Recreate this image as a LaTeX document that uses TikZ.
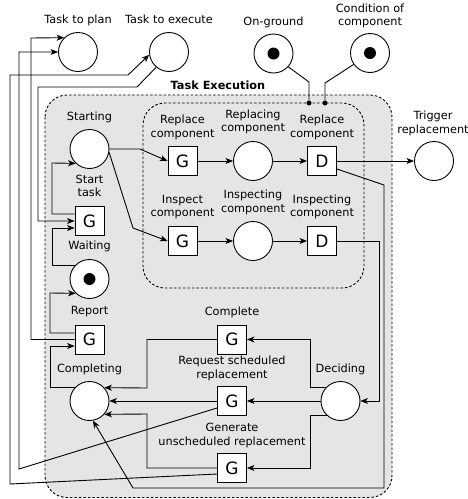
\documentclass[tikz,border=0pt]{standalone}
\usepackage{fontspec}
\setmainfont{DejaVu Sans}
\usetikzlibrary{arrows.meta,calc}

\begin{document}
\begin{tikzpicture}[x=1pt,y=-1pt,
  every node/.style={font=\fontsize{11.3}{13.5}\selectfont},
  place/.style={circle,draw,fill=white,minimum size=39pt,inner sep=0pt,line width=0.9pt},
  trans/.style={rectangle,draw,fill=white,minimum size=29pt,inner sep=0pt,line width=0.9pt,font=\fontsize{17}{17}\selectfont},
  token/.style={circle,fill=black,minimum size=12pt,inner sep=0pt},
  dotpt/.style={circle,fill=black,minimum size=5pt,inner sep=0pt},
  lbl/.style={align=center,inner sep=0pt},
  arc/.style={line width=0.9pt,-{Stealth[length=7.5pt,width=6pt,inset=2pt]}},
  link/.style={line width=0.9pt},
  region/.style={dash pattern=on 2.5pt off 2pt,line width=0.9pt,rounded corners=22pt}
]
\useasboundingbox (0,0) rectangle (468,499);

% regions
\path[region,fill=black!10,draw=black] (45,95) rectangle (392,497.5);
\draw[region] (143,103) rectangle (364,288);

% places
\node[place] (plan) at (78,52) {};
\node[place] (exec) at (169,52) {};
\node[place] (ground) at (273.5,53.5) {};
\node[place] (cond) at (370,53) {};
\node[place] (trig) at (434,161) {};
\node[place] (start) at (89.5,149) {};
\node[place] (wait) at (89.5,279) {};
\node[place] (compl) at (89.5,401) {};
\node[place] (prep) at (253,161) {};
\node[place] (pins) at (253,241) {};
\node[place] (decide) at (340.5,401) {};

% tokens
\node[token] (tokground) at (ground.center) {};
\node[token] (tokcond) at (cond.center) {};
\node[token] (tokwait) at (wait.center) {};

% transitions
\node[trans] (gstart) at (89.5,221) {G};
\node[trans] (greport) at (89.5,339.5) {G};
\node[trans] (grep) at (182.5,161) {G};
\node[trans] (drep) at (322,161) {D};
\node[trans] (gins) at (182.5,241) {G};
\node[trans] (dins) at (322,241) {D};
\node[trans] (gcomp) at (232,339.5) {G};
\node[trans] (greq) at (232,401) {G};
\node[trans] (ggen) at (232,468) {G};

% dots
\node[dotpt] (dot1) at (309,103) {};
\node[dotpt] (dot2) at (325,103) {};

% labels
\node[lbl,anchor=base] (lplan) at (78,23) {Task to plan};
\node[lbl,anchor=base] (lexec) at (169,23) {Task to execute};
\node[lbl,anchor=base] (lground) at (273.5,25) {On-ground};
\node[lbl] (lcond) at (370,16) {Condition of\\component};
\node[lbl,anchor=base,font=\fontsize{11.3}{13.5}\selectfont\bfseries] (ltaskexec) at (218,89) {Task Execution};
\node[lbl] (ltrig) at (433,123.5) {Trigger\\replacement};
\node[lbl,anchor=base] (lstart) at (89.5,120) {Starting};
\node[lbl] (lgstart) at (89.5,186) {Start\\task};
\node[lbl,anchor=base] (lwait) at (89.5,249) {Waiting};
\node[lbl,anchor=base] (lreport) at (89.5,314) {Report};
\node[lbl,anchor=base] (lcompl) at (89.5,372) {Completing};
\node[lbl] (lgrep) at (182.5,127.5) {Replace\\component};
\node[lbl] (lprep) at (253,122) {Replacing\\component};
\node[lbl] (ldrep) at (322,127.5) {Replace\\component};
\node[lbl] (lgins) at (182.5,207) {Inspect\\component};
\node[lbl] (lpins) at (253,202.5) {Inspecting\\component};
\node[lbl] (ldins) at (322,207) {Inspecting\\component};
\node[lbl,anchor=base] (lgcomp) at (232,315) {Complete};
\node[lbl] (lgreq) at (232,368.5) {Request scheduled\\replacement};
\node[lbl] (lggen) at (232,435.5) {Generate\\unscheduled replacement};
\node[lbl,anchor=base] (ldecide) at (340.5,372) {Deciding};

% arcs
\draw[arc] (exec.230) -- (137,87) -- (38,87) |- (gstart.west);
\draw[arc] ($(gstart.west)+(0,-7)$) -| (52,163) -- (start.226);
\draw[arc] (wait.138) -| (52,228) -- ($(gstart.west)+(0,7)$);
\draw[arc] ($(greport.west)+(0,-6.5)$) -| (50,293) -- (wait.226);
\draw[arc] (greport.west) -| (31,38) -- (plan.134);
\draw[arc] (compl.138) -| (50,346) -- ($(greport.west)+(0,6.5)$);
\draw[arc] ($(greq.west)+(0,7)$) -- (19,469) -- (19,52) -- (plan.west);
\draw[arc] ($(ggen.west)+(0,6)$) -- (10,484) -- (10,75) -- (128,75) -- (exec.188);
\draw[arc] (gcomp.west) -| (147,388) -- (compl.42);
\draw[arc] (greq.west) -- (compl.east);
\draw[arc] (ggen.west) -| (147,414) -- (compl.318);
\draw[arc] (decide.138) -| (310,339.5) -- (gcomp.east);
\draw[arc] (decide.west) -- (greq.east);
\draw[arc] (decide.226) -| (310,468) -- (ggen.east);
\draw[arc] (dins.east) -| (379,401) -- (decide.east);
\draw[arc] (drep.east) -- (trig.west);
\draw[arc] ($(drep.east)+(0,8)$) -- (384,185) -- (384,488) -- (133,488) -- (compl.280);
\draw[arc] (start.east) -- (140,149) -- (grep.west);
\draw[arc] (start.-10) -- (133,228) -- (gins.west);
\draw[arc] (grep) -- (prep);
\draw[arc] (prep) -- (drep);
\draw[arc] (gins) -- (pins);
\draw[arc] (pins) -- (dins);
\draw[link] (ground.-42) -- (309,82) -- (dot1);
\draw[link] (cond.215) -- (325,83) -- (dot2);
\end{tikzpicture}
\end{document}
